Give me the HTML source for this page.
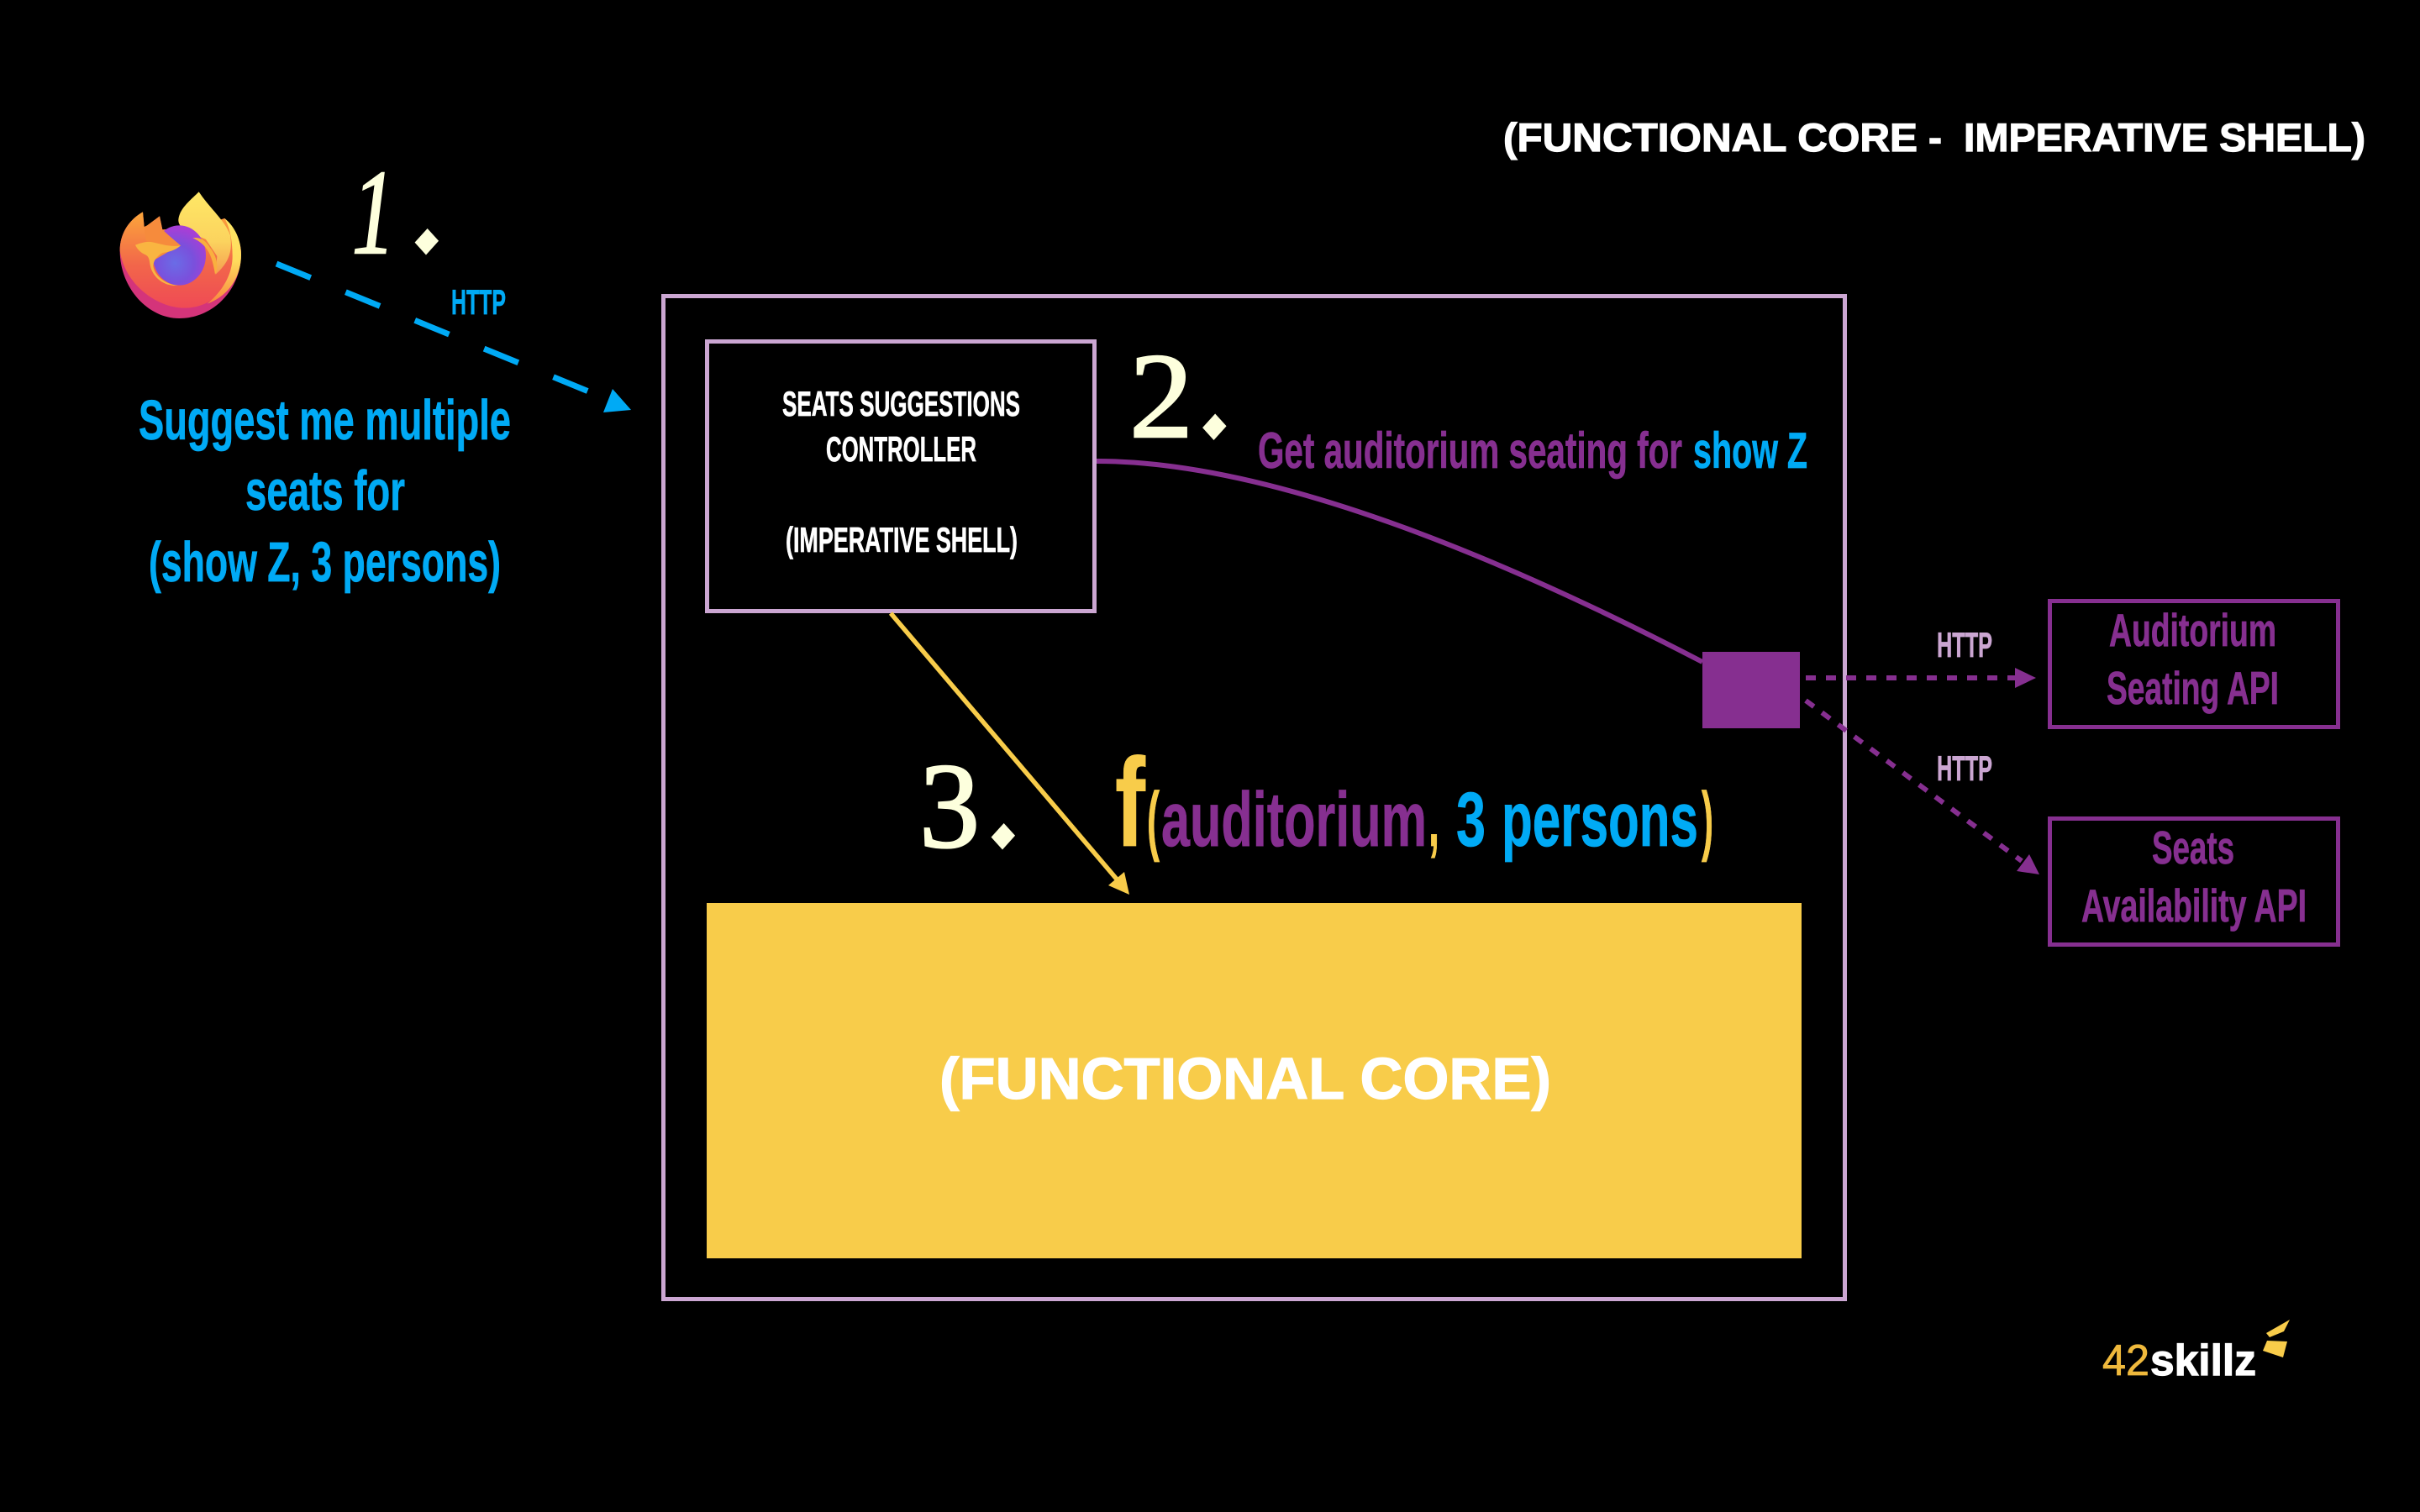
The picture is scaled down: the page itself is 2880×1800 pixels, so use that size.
<!DOCTYPE html>
<html>
<head>
<meta charset="utf-8">
<style>
html,body{margin:0;padding:0;background:#000;width:2880px;height:1800px;overflow:hidden}
svg{display:block}
.c{font-family:"Liberation Sans Narrow","Liberation Sans",sans-serif;font-weight:700;stroke-width:.7}
.s{font-family:"Liberation Sans",sans-serif;font-weight:700;stroke-width:1.2}
.n{font-family:"Liberation Serif",serif;fill:#FDFFDD;stroke:#FDFFDD;stroke-width:2.5}
.d{font-family:"Liberation Sans",sans-serif;fill:#FDFFDD;font-size:210px;text-anchor:middle}
.b{fill:#00AAF5;stroke:#00AAF5}.p{fill:#862F90;stroke:#862F90}.y{fill:#F8CC4A;stroke:#F8CC4A}.k{fill:#CBA6D2;stroke:#CBA6D2}.w{fill:#fff;stroke:#fff}
</style>
</head>
<body>
<svg xmlns="http://www.w3.org/2000/svg" width="2880" height="1800" viewBox="0 0 2880 1800">
<defs>
<linearGradient id="g1" x1="0" y1="0" x2="0" y2="1"><stop offset="0" stop-color="#FBA63A"/><stop offset=".55" stop-color="#F2664A"/><stop offset="1" stop-color="#EF4A55"/></linearGradient>
<linearGradient id="g2" x1="0" y1="0" x2="0" y2="1"><stop offset="0" stop-color="#FFE866"/><stop offset=".6" stop-color="#FBD35E"/><stop offset="1" stop-color="#F59E50"/></linearGradient>
<linearGradient id="g4" x1="0" y1="0" x2="0" y2="1"><stop offset="0" stop-color="#FFE866"/><stop offset=".5" stop-color="#FFDB5C"/><stop offset="1" stop-color="#F8853F"/></linearGradient>
<radialGradient id="g3" gradientUnits="userSpaceOnUse" cx="235" cy="295" r="125"><stop offset="0" stop-color="#6A6CE6"/><stop offset=".55" stop-color="#7A50DC"/><stop offset="1" stop-color="#A63FD6"/></radialGradient>
</defs>
<rect width="2880" height="1800" fill="#000"/>

<!-- main boxes -->
<rect x="789.5" y="352.5" width="1406" height="1194" fill="none" stroke="#CBA6D2" stroke-width="5"/>
<rect x="841.5" y="406.5" width="461" height="321" fill="none" stroke="#CBA6D2" stroke-width="5"/>
<rect x="841" y="1075" width="1303" height="423" fill="#F8CC4A"/>
<rect x="2026" y="776" width="116" height="91" fill="#862F90"/>
<rect x="2439.5" y="715.5" width="343" height="150" fill="none" stroke="#862F90" stroke-width="5"/>
<rect x="2439.5" y="974.5" width="343" height="150" fill="none" stroke="#862F90" stroke-width="5"/>

<!-- connectors -->
<path d="M329 314 L703 467" fill="none" stroke="#00AAF5" stroke-width="7" stroke-dasharray="44 45"/>
<polygon points="751,488 729,463 718,491" fill="#00AAF5"/>
<path d="M1305 549 Q1566 549 2026 788" fill="none" stroke="#862F90" stroke-width="6"/>
<line x1="1060" y1="730" x2="1331" y2="1049" stroke="#F8CC4A" stroke-width="5.5"/>
<polygon points="1344,1065 1338,1038 1319,1054" fill="#F8CC4A"/>
<line x1="2149" y1="807" x2="2398" y2="807" stroke="#862F90" stroke-width="6" stroke-dasharray="12 12"/>
<polygon points="2423,807 2398,795 2398,819" fill="#862F90"/>
<line x1="2149" y1="834" x2="2406" y2="1025" stroke="#862F90" stroke-width="6" stroke-dasharray="12 12"/>
<polygon points="2427,1041 2415,1017 2400,1037" fill="#862F90"/>

<!-- firefox logo -->
<g transform="translate(130,215) scale(.33333)">
<path d="M120 112C70 140 38 190 38 250C38 385 140 492 250 492C375 492 471 385 471 262C471 215 445 165 412 135L300 170L190 175L180 127L130 165L125 165Z" fill="#D4347A"/>
<path d="M120 112C70 140 38 190 38 250C55 370 170 455 270 455C370 455 450 370 471 262C471 215 445 165 412 135L300 170L190 175L180 127L130 165L125 165Z" fill="url(#g1)"/>
<path d="M320 40C290 70 250 100 247 140C245 175 300 190 345 210L385 270L380 335C430 290 440 250 432 195C415 145 360 100 320 40Z" fill="url(#g2)"/>
<path d="M412 135C450 165 471 215 471 265C471 340 430 410 350 440C410 390 440 330 440 270C440 220 432 170 412 135Z" fill="url(#g4)"/>
<ellipse cx="250" cy="267" rx="95" ry="107" fill="url(#g3)"/>
<path d="M125 165L135 160L180 127L185 170C205 190 235 215 255 232L215 252L150 290C140 240 125 200 125 165Z" fill="#F68B3C"/>
<path d="M93 230C115 222 135 216 155 220C180 225 215 238 255 232C235 250 210 255 190 258C170 270 158 285 157 305C162 340 200 370 245 375C190 378 150 340 145 295C143 280 140 270 130 265C112 258 100 245 93 230Z" fill="#F9B541"/>
<path d="M298 205C325 200 345 215 360 240C385 270 392 310 378 335C372 300 365 265 345 240C330 222 315 212 298 205Z" fill="#F9B03F"/>
</g>

<!-- numerals -->
<text class="n" font-style="italic" x="419" y="301" font-size="144" textLength="51" lengthAdjust="spacingAndGlyphs">1</text>
<text class="d" transform="translate(508,287.5) scale(.95,1.05) rotate(45) translate(0,11.5)">.</text>
<text class="n" x="1344" y="520" font-size="145" textLength="76" lengthAdjust="spacingAndGlyphs">2</text>
<text class="d" transform="translate(1445.5,508) scale(.95,1.05) rotate(45) translate(0,11.5)">.</text>
<text class="n" x="1094" y="1008" font-size="145" textLength="72" lengthAdjust="spacingAndGlyphs">3</text>
<text class="d" transform="translate(1194,995.5) scale(.95,1.05) rotate(45) translate(0,11.5)">.</text>

<!-- titles -->
<text class="s w" x="1789" y="180" font-size="47" textLength="493" lengthAdjust="spacingAndGlyphs">(FUNCTIONAL CORE</text>
<text class="s w" x="2295" y="180" font-size="47" textLength="16" lengthAdjust="spacingAndGlyphs">-</text>
<text class="s w" x="2337" y="180" font-size="47" textLength="478" lengthAdjust="spacingAndGlyphs">IMPERATIVE SHELL)</text>
<text class="s w" x="1118" y="1308" font-size="70" textLength="728" lengthAdjust="spacingAndGlyphs" stroke-width="2">(FUNCTIONAL CORE)</text>

<!-- left text -->
<text class="c b" x="537" y="374" font-size="42" textLength="65" lengthAdjust="spacingAndGlyphs">HTTP</text>
<text class="c b" x="165" y="523" font-size="67" textLength="443" lengthAdjust="spacingAndGlyphs">Suggest me multiple</text>
<text class="c b" x="292" y="607" font-size="67" textLength="190" lengthAdjust="spacingAndGlyphs">seats for</text>
<text class="c b" x="177" y="692" font-size="67" textLength="419" lengthAdjust="spacingAndGlyphs">(show Z, 3 persons)</text>

<!-- controller -->
<text class="c w" x="931" y="495" font-size="42" textLength="283" lengthAdjust="spacingAndGlyphs">SEATS SUGGESTIONS</text>
<text class="c w" x="983" y="549" font-size="42" textLength="179" lengthAdjust="spacingAndGlyphs">CONTROLLER</text>
<text class="c w" x="935" y="657" font-size="42" textLength="276" lengthAdjust="spacingAndGlyphs">(IMPERATIVE SHELL)</text>

<!-- get auditorium -->
<text class="c p" x="1497" y="557" font-size="60" textLength="505" lengthAdjust="spacingAndGlyphs">Get auditorium seating for</text>
<text class="c b" x="2015" y="557" font-size="60" textLength="136" lengthAdjust="spacingAndGlyphs">show Z</text>

<!-- f(...) -->
<text class="c y" x="1327" y="1007" font-size="150" textLength="36" lengthAdjust="spacingAndGlyphs">f</text>
<text class="c y" x="1365" y="1007" font-size="92" textLength="15" lengthAdjust="spacingAndGlyphs">(</text>
<text class="c p" x="1382" y="1007" font-size="92" textLength="316" lengthAdjust="spacingAndGlyphs">auditorium</text>
<text class="c y" x="1700" y="1007" font-size="92" textLength="13" lengthAdjust="spacingAndGlyphs">,</text>
<text class="c b" x="1733" y="1007" font-size="92" textLength="35" lengthAdjust="spacingAndGlyphs">3</text>
<text class="c b" x="1787" y="1007" font-size="92" textLength="234" lengthAdjust="spacingAndGlyphs">persons</text>
<text class="c y" x="2025" y="1007" font-size="92" textLength="14" lengthAdjust="spacingAndGlyphs">)</text>

<!-- right -->
<text class="c k" x="2305" y="782" font-size="42" textLength="66" lengthAdjust="spacingAndGlyphs">HTTP</text>
<text class="c k" x="2305" y="929" font-size="42" textLength="66" lengthAdjust="spacingAndGlyphs">HTTP</text>
<text class="c p" x="2510" y="769" font-size="55" textLength="199" lengthAdjust="spacingAndGlyphs">Auditorium</text>
<text class="c p" x="2507" y="838" font-size="55" textLength="205" lengthAdjust="spacingAndGlyphs">Seating API</text>
<text class="c p" x="2561" y="1028" font-size="55" textLength="98" lengthAdjust="spacingAndGlyphs">Seats</text>
<text class="c p" x="2477" y="1097" font-size="55" textLength="268" lengthAdjust="spacingAndGlyphs">Availability API</text>

<!-- 42skillz logo -->
<text x="2502" y="1637" font-family="Liberation Sans,sans-serif" font-size="52" fill="#EFB93C" stroke="#EFB93C" stroke-width=".8" textLength="56" lengthAdjust="spacingAndGlyphs">42</text>
<text class="s w" x="2559" y="1637" font-size="52" textLength="126" lengthAdjust="spacingAndGlyphs">skillz</text>
<polygon points="2693,1608 2698,1596 2722,1597 2717,1616" fill="#F8CC4A"/>
<polygon points="2697,1587 2725,1571 2718,1585 2701,1592" fill="#F8CC4A"/>
</svg>
</body>
</html>
